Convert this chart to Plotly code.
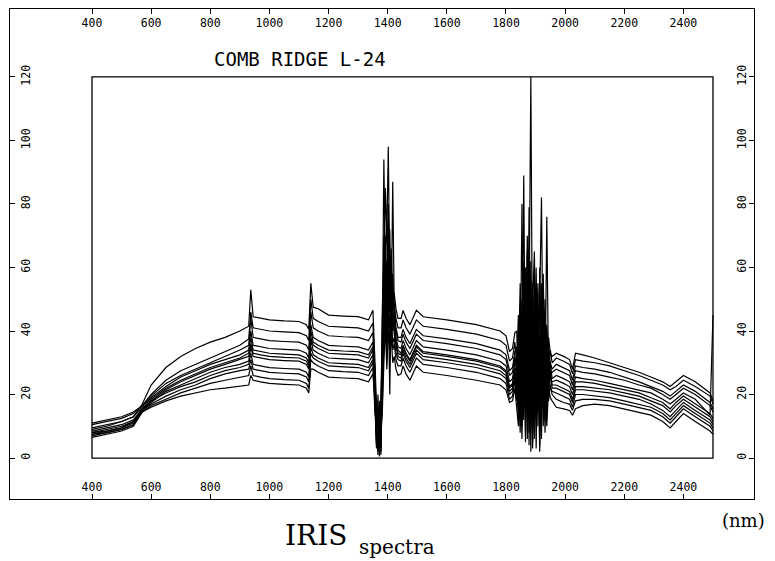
import plotly.graph_objects as go

# ---------------- data ----------------
wavelength_nm = [
    400, 450, 500, 540, 570, 600, 650, 700, 750, 800, 850, 900, 930,
    937, 945, 970, 1000, 1050, 1100, 1125,
    1133, 1140, 1148, 1165, 1200, 1250, 1300, 1335, 1350,
    1357, 1362, 1367, 1372, 1377, 1382, 1387, 1392, 1397, 1402, 1407, 1412, 1417, 1422, 1428, 1435,
    1445, 1452, 1462, 1475, 1497, 1520, 1600, 1700, 1780, 1800, 1812, 1822, 1830,
    1836, 1842, 1848, 1854, 1860, 1866, 1872, 1878, 1884, 1890, 1896, 1902, 1908, 1914, 1920, 1926,
    1932, 1938, 1944, 1950, 1956,
    1970, 1995, 2015, 2025, 2035, 2060, 2100, 2150, 2200, 2250, 2290, 2330, 2355, 2375, 2400, 2440,
    2490, 2500,
]

spectrum_01 = [
    9.0, 10.0, 11.5, 13.0, 17.0, 23.0, 28.5, 32.0, 34.5, 36.5, 38.0, 40.0, 41.5,
    53, 44.5, 44.0, 43.5, 43.2, 43.0, 42.0,
    40.5, 55, 47.5, 47.0, 45.0, 44.7, 44.5, 43.5, 46.5,
    30, 12, 3, 18, 6, 48, 62, 85, 70, 98, 55, 66, 50, 52, 47, 44,
    44.0, 46.5, 44.0, 42.0, 46.5, 44.5, 43.5, 42.0, 40.0, 38.5, 33.5, 34.5, 39.5,
    40, 28, 55, 35, 62, 30, 70, 45, 120, 22, 58, 30, 48, 25, 52, 35, 44, 30, 38, 33, 32,
    33, 32, 31, 28, 33, 32.5, 31.5, 30, 28.5, 27, 25.5, 24, 22.5, 24, 26, 24, 20.5, 18,
]
spectrum_02 = [
    10.5, 11.5, 12.5, 14.0, 16.5, 20.0, 24.5, 27.5, 29.5, 31.5, 33.5, 35.5, 37.5,
    46, 41.0, 40.5, 40.0, 39.7, 39.5, 38.5,
    37.0, 50, 44.0, 43.0, 41.5, 41.2, 41.0, 40.0, 42.5,
    26, 8, 15, 2, 20, 40, 94, 58, 75, 60, 72, 45, 87, 48, 44, 41,
    41.0, 43.5, 41.0, 39.0, 43.5, 41.5, 40.5, 39.0, 37.0, 35.5, 30.5, 31.5, 36.5,
    30, 45, 22, 80, 18, 52, 26, 60, 15, 48, 65, 20, 42, 55, 28, 46, 24, 40, 29, 34, 30,
    31.5, 30.5, 29.5, 26.5, 31.0, 30.5, 30.0, 29.0, 27.5, 26.0, 24.5, 23.0, 21.5, 22.5, 24.5, 22.5, 19.5, 17.0,
]
spectrum_03 = [
    11.0, 12.0, 13.0, 14.5, 16.5, 19.5, 23.5, 26.0, 28.0, 30.0, 32.0, 34.0, 35.5,
    44, 38.0, 37.5, 37.0, 36.7, 36.5, 35.5,
    34.0, 46, 41.0, 40.0, 38.5, 38.2, 38.0, 37.0, 39.5,
    22, 14, 5, 10, 1, 35, 55, 70, 48, 80, 52, 60, 46, 49, 41, 38,
    38.0, 40.5, 38.0, 36.0, 40.5, 38.5, 37.5, 36.0, 34.0, 32.5, 27.5, 28.5, 33.5,
    35, 20, 48, 25, 89, 14, 50, 28, 56, 10, 40, 60, 18, 45, 82, 22, 38, 26, 35, 30, 28,
    29.5, 28.5, 27.5, 24.5, 29.0, 28.5, 28.0, 27.0, 25.5, 24.0, 22.5, 21.0, 19.5, 21.0, 23.0, 21.0, 17.5, 15.5,
]
spectrum_04 = [
    9.5, 10.5, 11.5, 13.0, 16.0, 19.0, 22.5, 25.5, 27.5, 29.5, 31.0, 32.5, 34.0,
    40, 35.5, 35.0, 34.5, 34.2, 34.0, 33.0,
    31.5, 42, 38.0, 37.0, 35.5, 35.2, 35.0, 34.0, 36.5,
    28, 6, 20, 4, 12, 28, 70, 45, 62, 55, 64, 42, 58, 44, 40, 37,
    36.5, 39.0, 36.5, 34.5, 39.0, 37.0, 36.0, 34.5, 32.5, 31.0, 26.0, 27.0, 32.0,
    26, 38, 16, 50, 30, 60, 12, 79, 20, 45, 8, 38, 55, 15, 42, 30, 50, 22, 32, 27, 27,
    28.0, 27.0, 26.0, 23.0, 27.5, 27.0, 26.5, 25.5, 24.5, 23.0, 22.0, 20.0, 18.5, 20.0, 22.0, 20.0, 16.5, 14.5,
]
spectrum_05 = [
    8.5, 9.5, 10.5, 12.0, 15.5, 18.5, 22.0, 24.5, 26.5, 28.5, 30.0, 31.5, 33.0,
    38, 34.0, 33.5, 33.0, 32.7, 32.5, 31.5,
    30.0, 40, 36.5, 35.5, 34.0, 33.7, 33.5, 32.5, 35.0,
    18, 10, 2, 14, 8, 44, 50, 66, 40, 74, 48, 56, 42, 46, 38, 35,
    34.5, 37.0, 34.5, 32.5, 37.0, 35.0, 34.0, 32.5, 30.5, 29.0, 24.0, 25.0, 30.0,
    32, 18, 42, 22, 55, 8, 48, 18, 62, 5, 52, 25, 40, 12, 36, 58, 20, 76, 24, 30, 25,
    26.0, 25.0, 24.0, 21.5, 25.5, 25.0, 24.5, 23.5, 22.5, 21.5, 20.5, 18.5, 17.0, 18.5, 20.5, 18.5, 13.5, 45.0,
]
spectrum_06 = [
    8.0, 9.0, 10.0, 11.5, 15.0, 18.0, 21.5, 24.0, 26.0, 28.0, 29.5, 31.0, 32.0,
    36, 33.0, 32.5, 32.0, 31.7, 31.5, 30.5,
    29.0, 38, 35.5, 34.5, 33.0, 32.7, 32.5, 31.5, 34.0,
    24, 4, 12, 0.5, 16, 22, 60, 38, 56, 50, 20, 52, 44, 40, 37, 34,
    33.0, 35.5, 33.0, 31.0, 35.5, 33.5, 32.5, 31.0, 29.0, 27.5, 22.5, 23.5, 28.5,
    22, 34, 12, 46, 20, 58, 6, 40, 30, 55, 15, 48, 10, 60, 20, 44, 12, 36, 28, 25, 24,
    24.5, 23.5, 22.5, 20.0, 24.0, 24.0, 23.5, 22.5, 21.5, 20.5, 19.0, 17.5, 15.5, 17.5, 19.5, 17.0, 14.0, 12.5,
]
spectrum_07 = [
    7.5, 8.5, 9.5, 11.0, 15.0, 17.5, 21.0, 23.0, 25.0, 27.0, 28.5, 29.5, 30.5,
    35, 32.0, 31.5, 31.0, 30.7, 30.5, 29.5,
    28.0, 37, 34.0, 33.0, 31.5, 31.2, 31.0, 30.0, 32.5,
    20, 15, 6, 12, 3, 30, 45, 58, 35, 62, 46, 48, 40, 43, 36, 33,
    32.5, 35.0, 32.5, 30.5, 35.0, 33.0, 32.0, 30.5, 28.5, 27.0, 22.0, 23.0, 28.0,
    28, 15, 38, 10, 50, 22, 65, 4, 45, 25, 50, 3, 42, 28, 55, 10, 40, 18, 30, 26, 23,
    23.0, 22.0, 21.0, 18.5, 22.5, 22.5, 22.0, 21.5, 20.5, 19.5, 18.0, 16.5, 14.5, 16.5, 18.5, 16.0, 13.0, 11.5,
]
spectrum_08 = [
    8.0, 8.5, 9.5, 11.5, 15.5, 18.0, 20.5, 22.5, 24.0, 26.0, 27.5, 28.5, 29.5,
    33, 29.5, 29.0, 28.5, 28.2, 28.0, 27.0,
    25.5, 35, 32.5, 31.5, 30.0, 29.7, 29.5, 28.5, 31.0,
    16, 3, 10, 7, 14, 38, 52, 40, 50, 44, 54, 38, 47, 39, 35, 32,
    31.5, 34.0, 31.5, 29.5, 34.0, 32.0, 31.0, 29.5, 27.5, 26.0, 21.0, 22.0, 27.0,
    20, 30, 10, 42, 15, 48, 25, 55, 2, 40, 18, 52, 22, 38, 6, 48, 26, 42, 20, 27, 22,
    22.0, 21.0, 20.0, 17.5, 21.5, 21.5, 21.0, 20.5, 19.5, 18.5, 17.0, 15.0, 13.0, 15.0, 17.5, 15.0, 12.0, 10.5,
]
spectrum_09 = [
    7.0, 8.0, 9.0, 10.5, 15.0, 17.0, 19.5, 21.5, 23.0, 25.0, 26.5, 27.5, 28.0,
    31, 28.0, 27.5, 27.0, 26.7, 26.5, 25.5,
    24.0, 33, 31.5, 30.5, 29.0, 28.7, 28.5, 27.5, 30.0,
    25, 9, 1, 16, 5, 18, 40, 52, 30, 56, 40, 45, 36, 38, 33, 31,
    30.5, 33.0, 30.5, 28.5, 33.0, 31.0, 30.0, 28.5, 26.5, 25.0, 20.0, 21.0, 26.0,
    25, 12, 36, 18, 45, 5, 38, 20, 50, 12, 42, 16, 36, 4, 40, 18, 35, 14, 28, 22, 21,
    20.5, 19.5, 18.5, 16.0, 20.0, 20.0, 19.5, 19.0, 18.0, 17.0, 16.0, 14.0, 12.0, 14.0, 16.5, 14.0, 11.0, 9.5,
]
spectrum_10 = [
    7.5, 8.0, 9.0, 10.5, 14.5, 16.5, 18.5, 20.5, 22.0, 23.5, 24.5, 25.5, 26.0,
    29, 26.0, 25.5, 25.0, 24.7, 24.5, 23.5,
    22.0, 31, 30.0, 29.0, 27.5, 27.2, 27.0, 26.0, 28.5,
    14, 11, 4, 8, 2, 26, 36, 48, 42, 46, 36, 44, 34, 36, 31, 29,
    29.0, 31.5, 29.0, 27.0, 31.5, 29.5, 28.5, 27.0, 25.0, 23.5, 18.5, 19.5, 24.5,
    18, 28, 8, 38, 12, 42, 15, 35, 10, 46, 6, 40, 14, 34, 10, 38, 8, 30, 18, 23, 20,
    18.5, 17.5, 17.0, 15.0, 18.0, 18.5, 18.5, 18.0, 17.0, 16.0, 15.0, 13.0, 11.0, 13.0, 15.5, 13.0, 10.0, 8.5,
]
spectrum_11 = [
    6.5, 7.5, 8.5, 10.0, 14.5, 16.0, 18.0, 19.5, 20.5, 21.5, 22.0, 22.5, 23.0,
    26, 24.5, 24.0, 23.5, 23.2, 23.0, 22.0,
    20.5, 28, 28.0, 27.0, 25.5, 25.2, 25.0, 24.0, 26.5,
    19, 5, 13, 3, 10, 15, 30, 42, 28, 40, 34, 38, 30, 32, 28, 26,
    26.5, 29.0, 26.5, 24.5, 29.0, 27.0, 26.0, 24.5, 23.0, 21.5, 17.5, 18.0, 22.0,
    16, 10, 30, 6, 35, 16, 40, 8, 38, 3, 34, 12, 45, 2, 30, 15, 28, 10, 22, 19, 18,
    16.0, 15.5, 15.0, 13.5, 15.5, 16.5, 17.0, 16.5, 15.5, 14.5, 13.5, 11.5, 9.5, 11.5, 14.0, 11.5, 8.5, 7.5,
]

spectra = [spectrum_01, spectrum_02, spectrum_03, spectrum_04, spectrum_05, spectrum_06,
           spectrum_07, spectrum_08, spectrum_09, spectrum_10, spectrum_11]

x_tick_values = [400, 600, 800, 1000, 1200, 1400, 1600, 1800, 2000, 2200, 2400]
x_tick_labels = ["400", "600", "800", "1000", "1200", "1400", "1600", "1800", "2000", "2200", "2400"]
y_tick_values = [0, 20, 40, 60, 80, 100, 120]
y_tick_labels = ["0", "20", "40", "60", "80", "100", "120"]

plot_title = "COMB RIDGE L-24"

for s in spectra:
    assert len(s) == len(wavelength_nm), (len(s), len(wavelength_nm))

# ---------------- figure ----------------
fig = go.Figure()
for i, s in enumerate(spectra):
    # the last spectrum is drawn on the mirrored (top/right) axes so that they are rendered
    on_mirror = (i == len(spectra) - 1)
    fig.add_trace(go.Scatter(x=wavelength_nm, y=s, mode="lines",
                             line=dict(color="black", width=1.2),
                             xaxis="x2" if on_mirror else "x",
                             yaxis="y2" if on_mirror else "y",
                             hoverinfo="skip", showlegend=False))

X_RANGE = [122.7, 2638.7]
Y_RANGE = [-12.9, 141.4]
tick_font = dict(family="DejaVu Sans Mono", size=11.5, color="black")

common_x = dict(range=X_RANGE, tickmode="array", tickvals=x_tick_values, ticktext=x_tick_labels,
                ticks="inside", ticklen=5, tickwidth=1.2, tickcolor="black",
                ticklabelposition="inside", tickfont=tick_font,
                showgrid=False, zeroline=False)
common_y = dict(range=Y_RANGE, tickmode="array", tickvals=y_tick_values, ticktext=y_tick_labels,
                ticks="inside", ticklen=5, tickwidth=1.2, tickcolor="black",
                ticklabelposition="inside", tickangle=-90, tickfont=tick_font,
                showgrid=False, zeroline=False)

fig.update_layout(
    width=775, height=561,
    margin=dict(l=10, r=21, t=9, b=62),
    paper_bgcolor="white", plot_bgcolor="white",
    xaxis=dict(**common_x, side="bottom", showline=True, linecolor="black",
               linewidth=1.4, mirror=True),
    xaxis2=dict(**common_x, side="top", overlaying="x", showline=False, ticklabelstandoff=4),
    yaxis=dict(**common_y, side="left", showline=True, linecolor="black",
               linewidth=1.4, mirror=True),
    yaxis2=dict(**common_y, side="right", overlaying="y", showline=False),
    shapes=[dict(type="rect", xref="x", yref="y", x0=400, x1=2500, y0=0, y1=120,
                 line=dict(color="black", width=1.3), layer="below")],
    annotations=[
        dict(text=plot_title, xref="paper", yref="paper", x=0.2715, y=0.897,
             xanchor="left", yanchor="middle", showarrow=False,
             font=dict(family="DejaVu Sans Mono", size=19, color="black")),
        dict(text="IRIS", xref="paper", yref="paper", x=0.367, y=-0.0745,
             xanchor="left", yanchor="middle", showarrow=False,
             font=dict(family="DejaVu Serif", size=28, color="black")),
        dict(text="spectra", xref="paper", yref="paper", x=0.4664, y=-0.098,
             xanchor="left", yanchor="middle", showarrow=False,
             font=dict(family="DejaVu Serif", size=20, color="black")),
        dict(text="(nm)", xref="paper", yref="paper", x=0.9543, y=-0.043,
             xanchor="left", yanchor="middle", showarrow=False,
             font=dict(family="DejaVu Serif", size=18, color="black")),
    ],
)

fig.write_html("out.html",
               config={"displayModeBar": False},
               post_script="document.body.style.margin='0';document.body.style.overflow='hidden';")
